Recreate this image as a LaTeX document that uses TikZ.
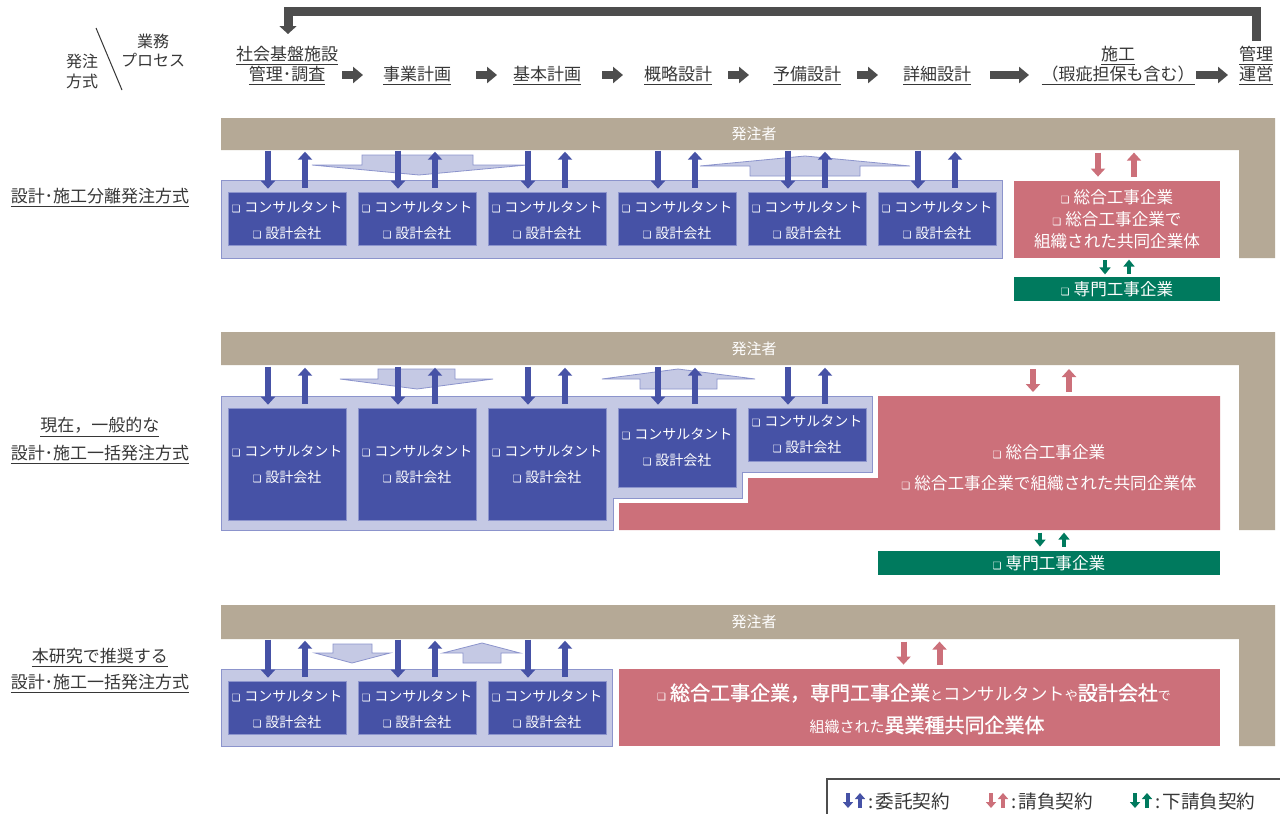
\documentclass[tikz,border=0pt]{standalone}
\usepackage{fontspec}
\setmainfont{Noto Sans CJK JP}
\newfontfamily\symf{DejaVu Sans}
\newfontfamily\jpmed[FakeBold=1.2]{Noto Sans CJK JP}
\usetikzlibrary{arrows.meta,fit,calc}
\definecolor{beige}{RGB}{181,169,150}
\definecolor{lav}{RGB}{197,201,228}
\definecolor{lavb}{RGB}{140,148,204}
\definecolor{cblue}{RGB}{70,82,166}
\definecolor{cpink}{RGB}{204,112,122}
\definecolor{cgreen}{RGB}{0,122,94}
\definecolor{dgray}{RGB}{77,77,77}
\definecolor{tgray}{RGB}{55,55,55}
\newcommand\sqbx{{\symf\fontsize{5}{5}\selectfont ❏}\hspace{2pt}}
\newcommand\fs[2]{\fontsize{#1}{#2}\selectfont}
\tikzset{
 hdr/.style={text=tgray, font=\fs{8.5}{10}, align=center, inner sep=0pt},
 bbox/.style={fill=cblue, draw=lavb, line width=0.3pt, inner sep=0pt},
 btext/.style={text=white, align=center, inner sep=0pt, font=\fs{7}{13}},
 pbox/.style={fill=cpink, inner sep=0pt},
 ptext/.style={text=white, align=center, inner sep=0pt, font=\fs{8.3}{11}},
 gbox/.style={fill=cgreen, inner sep=0pt},
 gtext/.style={text=white, inner sep=0pt, font=\fs{8.3}{10}},
 cont/.style={fill=lav, draw=lavb, line width=0.4pt},
 blk/.style={fill=lav, draw=lavb, line width=0.4pt},
 barlabel/.style={text=white, font=\fs{7.5}{9}, inner sep=0pt},
 barr/.style={draw=cblue, line width=3pt, -{Triangle[width=7pt,length=4pt]}},
 parr/.style={draw=cpink, line width=3pt, -{Triangle[width=7pt,length=4pt]}},
 garr/.style={draw=cgreen, line width=2.2pt, -{Triangle[width=5.5pt,length=3.5pt]}},
 harr/.style={draw=dgray, line width=4pt, -{Triangle[width=8pt,length=5pt]}},
 larrb/.style={draw=cblue, line width=2pt, -{Triangle[width=5pt,length=3pt]}},
 larrp/.style={draw=cpink, line width=2pt, -{Triangle[width=5pt,length=3pt]}},
 larrg/.style={draw=cgreen, line width=2pt, -{Triangle[width=5pt,length=3pt]}},
}
\begin{document}
\begin{tikzpicture}[x=0.5pt,y=-0.5pt]
\path[use as bounding box, fill=white] (0,0) rectangle (1280,814);

% ---------- header ----------
\draw[dgray, line width=4.5pt, -{Triangle[width=8.5pt,length=4pt]}] (1256,41) -- (1256,11) -- (288,11) -- (288,34);
\draw[tgray, line width=0.5pt] (96,28) -- (122,90);
\node[hdr, font=\fs{8}{9.5}] (hb) at (153,51) {業務\\プロセス};
\node[hdr, font=\fs{8}{10}] (ha) at (82,71) {発注\\方式};
\node[hdr] (h1) at (287,66) {\underline{社会基盤施設}\\\underline{管理･調査}};
\node[hdr] (h2) at (417,76) {\underline{事業計画}};
\node[hdr] (h3) at (547,76) {\underline{基本計画}};
\node[hdr] (h4) at (678,76) {\underline{概略設計}};
\node[hdr] (h5) at (807,76) {\underline{予備設計}};
\node[hdr] (h6) at (937,76) {\underline{詳細設計}};
\node[hdr] (h7) at (1118,66) {\underline{施工}\\\underline{（瑕疵担保も含む）}};
\node[hdr] (h8) at (1256,66) {\underline{管理}\\\underline{運営}};
\draw[harr] (342,75) -- (363,75);
\draw[harr] (476,75) -- (497,75);
\draw[harr] (602,75) -- (623,75);
\draw[harr] (728,75) -- (749,75);
\draw[harr] (857,75) -- (878,75);
\draw[harr] (990,75) -- (1029,75);
\draw[harr] (1196,75) -- (1228,75);

% ---------- left labels ----------
\node[hdr] (m1) at (100,198) {\underline{設計･施工分離発注方式}};
\node[hdr, font=\fs{8.5}{14}] (m2) at (100,441) {\underline{現在，一般的な}\\\underline{設計･施工一括発注方式}};
\node[hdr, font=\fs{8.5}{13}] (m3) at (100,671) {\underline{本研究で推奨する}\\\underline{設計･施工一括発注方式}};

% ---------- row 1 ----------
\fill[beige] (221,118) -- (1275,118) -- (1275,258) -- (1239,258) -- (1239,150) -- (221,150) -- cycle;
\node[barlabel] (o1) at (754,134) {発注者};
\path[cont] (221,180) rectangle (1002,258);
\path[blk] (362,155) -- (473,155) -- (473,165) -- (527,165) -- (419,175) -- (312,165) -- (362,165) -- cycle;
\path[blk] (805,156) -- (910,166) -- (860,166) -- (860,176) -- (750,176) -- (750,166) -- (700,166) -- cycle;
\foreach \i/\x in {1/228,2/358,3/488,4/618,5/748,6/878}{
  \node[bbox, fit={(\x,192)(\x+118,245)}] (b1\i) {};
  \node[btext] at ($(b1\i.center)+(0,2)$) {\sqbx コンサルタント\\\sqbx 設計会社};
  \draw[barr] ($(b1\i.north)+(-19,-41)$) -- ($(b1\i.north)+(-19,-3)$);
  \draw[barr] ($(b1\i.north)+(18,-4)$) -- ($(b1\i.north)+(18,-40)$);
}
\node[pbox, fit={(1014,181)(1220,258)}] (p1) {};
\node[ptext] at (p1.center) {\sqbx 総合工事企業\\\sqbx 総合工事企業で\\組織された共同企業体};
\draw[parr] ($(p1.north)+(-19,-28)$) -- ($(p1.north)+(-19,-4)$);
\draw[parr] ($(p1.north)+(17,-4)$) -- ($(p1.north)+(17,-28)$);
\node[gbox, fit={(1014,277)(1220,301)}] (g1) {};
\node[gtext] at (g1.center) {\sqbx 専門工事企業};
\draw[garr] ($(p1.south)+(-12,2)$) -- ($(p1.south)+(-12,16)$);
\draw[garr] ($(g1.north)+(12,-3)$) -- ($(g1.north)+(12,-17)$);

% ---------- row 2 ----------
\fill[beige] (221,332) -- (1275,332) -- (1275,530) -- (1239,530) -- (1239,365) -- (221,365) -- cycle;
\node[barlabel] (o2) at (754,349) {発注者};
\path[cont] (221,396) -- (872,396) -- (872,472) -- (742,472) -- (742,498) -- (613,498) -- (613,530) -- (221,530) -- cycle;
\fill[cpink] (878,396) -- (1220,396) -- (1220,530) -- (619,530) -- (619,503) -- (748,503) -- (748,478) -- (878,478) -- cycle;
\path[blk] (378,369) -- (455,369) -- (455,379) -- (493,379) -- (417,389) -- (340,379) -- (378,379) -- cycle;
\path[blk] (678,369) -- (755,379) -- (717,379) -- (717,389) -- (640,389) -- (640,379) -- (602,379) -- cycle;
\foreach \i/\x/\yb in {1/228/520,2/358/520,3/488/520,4/618/487,5/748/461}{
  \node[bbox, fit={(\x,408)(\x+118,\yb)}] (b2\i) {};
  \node[btext] at (b2\i.center) {\sqbx コンサルタント\\\sqbx 設計会社};
  \draw[barr] ($(b2\i.north)+(-19,-41)$) -- ($(b2\i.north)+(-19,-3)$);
  \draw[barr] ($(b2\i.north)+(18,-4)$) -- ($(b2\i.north)+(18,-40)$);
}
\coordinate (p2top) at (1049,396);
\node[ptext, font=\fs{8.3}{15.5}] (p2) at (1049,468) {\sqbx 総合工事企業\\\sqbx 総合工事企業で組織された共同企業体};
\draw[parr] ($(p2top)+(-16,-27)$) -- ($(p2top)+(-16,-4)$);
\draw[parr] ($(p2top)+(20,-4)$) -- ($(p2top)+(20,-27)$);
\node[gbox, fit={(878,551)(1220,575)}] (g2) {};
\node[gtext] at (g2.center) {\sqbx 専門工事企業};
\draw[garr] ($(g2.north)+(-9,-18)$) -- ($(g2.north)+(-9,-4)$);
\draw[garr] ($(g2.north)+(15,-4)$) -- ($(g2.north)+(15,-18)$);

% ---------- row 3 ----------
\fill[beige] (221,605) -- (1275,605) -- (1275,746) -- (1239,746) -- (1239,639) -- (221,639) -- cycle;
\node[barlabel] (o3) at (754,622) {発注者};
\path[cont] (221,669) rectangle (612,746);
\path[blk] (333,644) -- (372,644) -- (372,653) -- (390,653) -- (352,663) -- (315,653) -- (333,653) -- cycle;
\path[blk] (482,643) -- (520,653) -- (501,653) -- (501,663) -- (463,663) -- (463,653) -- (443,653) -- cycle;
\foreach \i/\x in {1/228,2/358,3/488}{
  \node[bbox, fit={(\x,681)(\x+118,734)}] (b3\i) {};
  \node[btext] at ($(b3\i.center)+(0,2)$) {\sqbx コンサルタント\\\sqbx 設計会社};
  \draw[barr] ($(b3\i.north)+(-19,-41)$) -- ($(b3\i.north)+(-19,-3)$);
  \draw[barr] ($(b3\i.north)+(18,-4)$) -- ($(b3\i.north)+(18,-40)$);
}
\node[pbox, fit={(619,669)(1220,746)}] (p3) {};
\node[ptext] (p3a) at (914,693) {{\sqbx}{\jpmed\fs{10}{12}総合工事企業，専門工事企業}{\fs{6.5}{12}と}{\fs{8.7}{12}コンサルタント}{\fs{6.5}{12}や}{\jpmed\fs{10}{12}設計会社}{\fs{6.5}{12}で}};
\node[ptext] (p3b) at (927,725) {{\fs{7.5}{12}組織された}{\jpmed\fs{10}{12}異業種共同企業体}};
\draw[parr] ($(p3.north)+(-16,-27)$) -- ($(p3.north)+(-16,-4)$);
\draw[parr] ($(p3.north)+(20,-4)$) -- ($(p3.north)+(20,-27)$);

% ---------- legend ----------
\draw[dgray, line width=0.6pt] (827,814) -- (827,779) -- (1280,779);
\draw[larrb] (848,793) -- (848,808);
\draw[larrb] (860,808) -- (860,793);
\node[hdr, anchor=west, font=\fs{9.3}{10}] (l1) at (868,801) {:\hspace{1pt}委託契約};
\draw[larrp] (991,793) -- (991,808);
\draw[larrp] (1003,808) -- (1003,793);
\node[hdr, anchor=west, font=\fs{9.3}{10}] (l2) at (1011,801) {:\hspace{1pt}請負契約};
\draw[larrg] (1135,793) -- (1135,808);
\draw[larrg] (1147,808) -- (1147,793);
\node[hdr, anchor=west, font=\fs{9.3}{10}] (l3) at (1155,801) {:\hspace{1pt}下請負契約};
\end{tikzpicture}
\end{document}
